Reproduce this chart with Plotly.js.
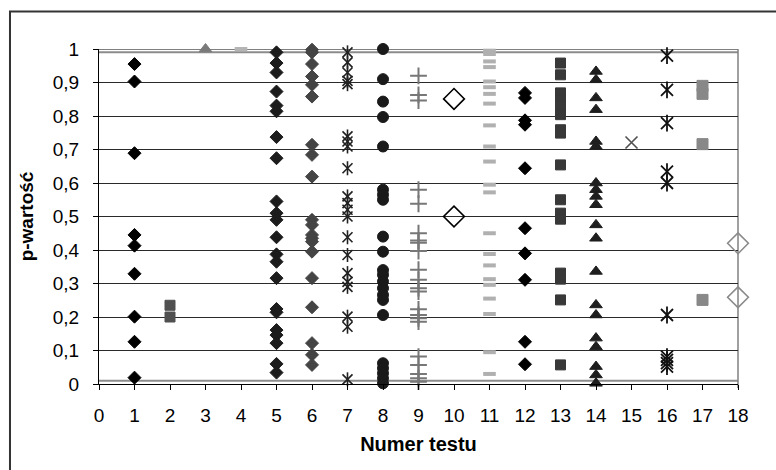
<!DOCTYPE html>
<html>
<head>
<meta charset="utf-8">
<script src="https://cdn.plot.ly/plotly-3.0.1.min.js"></script>
<style>
  html, body { margin: 0; padding: 0; background: #ffffff; }
  #chart { width: 776px; height: 470px; }
</style>
</head>
<body>
<div id="chart"></div>
<script>
// Test numbers (x axis) and p-values for each test
const xTickVals = [0,1,2,3,4,5,6,7,8,9,10,11,12,13,14,15,16,17,18];
const yTickVals = [0,0.1,0.2,0.3,0.4,0.5,0.6,0.7,0.8,0.9,1];
const yTickText = ["0","0,1","0,2","0,3","0,4","0,5","0,6","0,7","0,8","0,9","1"];

const test1  = [0.955, 0.903, 0.689, 0.445, 0.413, 0.329, 0.201, 0.126, 0.019];
const test2  = [0.235, 0.200];
const test3  = [1.0];
const test4  = [1.0];
const test5  = [0.990, 0.958, 0.930, 0.873, 0.831, 0.814, 0.737, 0.674, 0.545, 0.510, 0.490, 0.438, 0.387, 0.365, 0.316, 0.224, 0.214, 0.161, 0.146, 0.122, 0.060, 0.034];
const test6  = [0.998, 0.990, 0.955, 0.918, 0.893, 0.858, 0.714, 0.684, 0.619, 0.490, 0.475, 0.445, 0.435, 0.425, 0.395, 0.316, 0.229, 0.122, 0.087, 0.057];
const test7  = [0.990, 0.960, 0.930, 0.905, 0.895, 0.739, 0.724, 0.709, 0.644, 0.560, 0.540, 0.520, 0.500, 0.438, 0.385, 0.331, 0.305, 0.290, 0.201, 0.171, 0.014];
const test8  = [1.0, 0.910, 0.843, 0.797, 0.709, 0.580, 0.565, 0.550, 0.440, 0.395, 0.340, 0.326, 0.306, 0.286, 0.266, 0.251, 0.206, 0.062, 0.047, 0.032, 0.017, 0.002];
const test9  = [0.920, 0.863, 0.846, 0.580, 0.538, 0.450, 0.428, 0.422, 0.397, 0.341, 0.311, 0.286, 0.276, 0.223, 0.206, 0.196, 0.186, 0.082, 0.057, 0.030, 0.017, 0.007];
const test10 = [0.851, 0.500];
const test11 = [0.995, 0.985, 0.963, 0.946, 0.903, 0.886, 0.866, 0.837, 0.772, 0.709, 0.664, 0.595, 0.572, 0.450, 0.388, 0.354, 0.313, 0.296, 0.255, 0.209, 0.095, 0.030];
const test12 = [0.869, 0.854, 0.787, 0.774, 0.644, 0.465, 0.390, 0.311, 0.126, 0.059];
const test13 = [0.958, 0.923, 0.869, 0.849, 0.829, 0.804, 0.759, 0.749, 0.654, 0.550, 0.510, 0.492, 0.331, 0.313, 0.251, 0.057];
const test14 = [0.933, 0.908, 0.854, 0.819, 0.724, 0.709, 0.600, 0.580, 0.560, 0.535, 0.475, 0.435, 0.336, 0.236, 0.206, 0.137, 0.111, 0.052, 0.027, 0.002];
const test15 = [0.721];
const test16 = [0.980, 0.878, 0.779, 0.634, 0.600, 0.206, 0.082, 0.072, 0.062, 0.052];
const test17 = [0.890, 0.866, 0.716, 0.251];
const test18 = [0.420, 0.259];

function tr(n, vals, marker) {
  return {
    type: 'scatter', mode: 'markers', cliponaxis: false,
    x: vals.map(() => n), y: vals,
    marker: marker, hoverinfo: 'skip', showlegend: false
  };
}
function filled(symbol, size, color) {
  return { symbol: symbol, size: size, color: color, line: { width: 1, color: color } };
}
function lineSym(symbol, size, color, w) {
  return { symbol: symbol, size: size, color: color, line: { width: w, color: color } };
}

const data = [
  tr(1, test1, filled('diamond', 10, '#000000')),
  tr(2, test2, filled('square', 10, '#505050')),
  tr(3, test3, filled('triangle-up', 11, '#7a7a7a')),
  tr(4, test4, lineSym('line-ew-open', 9, '#b4b4b4', 4)),
  tr(5, test5, filled('diamond', 10, '#1c1c1c')),
  tr(6, test6, filled('diamond', 10, '#444444')),
  tr(7, test7, lineSym('x-thin-open', 10, '#222222', 1.6)),
  tr(7, test7, lineSym('line-ns-open', 10, '#222222', 1.6)),
  tr(8, test8, filled('circle', 11, '#1a1a1a')),
  tr(9, test9, lineSym('cross-thin-open', 12, '#777777', 2)),
  tr(10, test10, lineSym('diamond-open', 16, '#000000', 1.6)),
  tr(11, test11, lineSym('line-ew-open', 9, '#b0b0b0', 4)),
  tr(12, test12, filled('diamond', 10, '#000000')),
  tr(13, test13, filled('square', 10, '#383838')),
  tr(14, test14, filled('triangle-up', 11, '#1e1e1e')),
  tr(15, test15, lineSym('x-thin-open', 12, '#505050', 1.6)),
  tr(16, test16, lineSym('x-thin-open', 12, '#111111', 1.8)),
  tr(16, test16, lineSym('line-ns-open', 12, '#111111', 1.8)),
  tr(17, test17, filled('square', 11, '#888888')),
  tr(18, test18, lineSym('diamond-open', 16, '#8a8a8a', 1.6))
];

const FONT = '"Liberation Sans", Arial, sans-serif';

const layout = {
  width: 776, height: 470,
  margin: { l: 99, r: 38, t: 49, b: 86 },
  paper_bgcolor: '#ffffff', plot_bgcolor: '#ffffff',
  font: { family: FONT, size: 19, color: '#000000' },
  xaxis: {
    range: [0, 18], tickvals: xTickVals, ticktext: xTickVals.map(String),
    showgrid: false, zeroline: false,
    showline: true, linecolor: '#000000', linewidth: 1,
    ticks: 'outside', ticklen: 5, tickcolor: '#000000', tickwidth: 1,
    ticklabelstandoff: 9,
    tickfont: { family: FONT, size: 19, color: '#000000' },
    title: { text: 'Numer testu', font: { family: FONT, size: 20, color: '#000000', weight: 'bold' }, standoff: 12 },
    automargin: false, fixedrange: true
  },
  yaxis: {
    range: [0, 1], tickvals: yTickVals, ticktext: yTickText,
    showgrid: true, gridcolor: '#2a2a2a', gridwidth: 1,
    zeroline: false,
    showline: true, linecolor: '#000000', linewidth: 1,
    ticks: 'outside', ticklen: 5, tickcolor: '#000000', tickwidth: 1,
    ticklabelstandoff: 10,
    tickfont: { family: FONT, size: 19, color: '#000000' },
    title: { text: 'p-wartość', font: { family: FONT, size: 19, color: '#000000', weight: 'bold' }, standoff: 14 },
    automargin: false, fixedrange: true
  },
  shapes: [
    { type: 'line', xref: 'paper', yref: 'y', x0: 0, x1: 1, y0: 0.99, y1: 0.99, line: { color: '#8c8c8c', width: 2 }, layer: 'below' },
    { type: 'line', xref: 'paper', yref: 'y', x0: 0, x1: 1, y0: 0.01, y1: 0.01, line: { color: '#8c8c8c', width: 2 }, layer: 'below' },
    { type: 'line', xref: 'paper', yref: 'y', x0: 0, x1: 1, y0: 1, y1: 1, line: { color: '#000000', width: 1 }, layer: 'below' },
    { type: 'line', xref: 'paper', yref: 'paper', x0: 1, x1: 1, y0: -0.012, y1: 1, line: { color: '#808080', width: 1.5 }, layer: 'below' },
    { type: 'rect', xref: 'paper', yref: 'paper', x0: -0.1393, x1: 1.08, y0: -0.3, y1: 1.1119, line: { color: '#333333', width: 2 }, fillcolor: 'rgba(0,0,0,0)', layer: 'below' }
  ],
  showlegend: false,
  hovermode: false
};

Plotly.newPlot('chart', data, layout, { staticPlot: true, displayModeBar: false });
</script>
</body>
</html>
